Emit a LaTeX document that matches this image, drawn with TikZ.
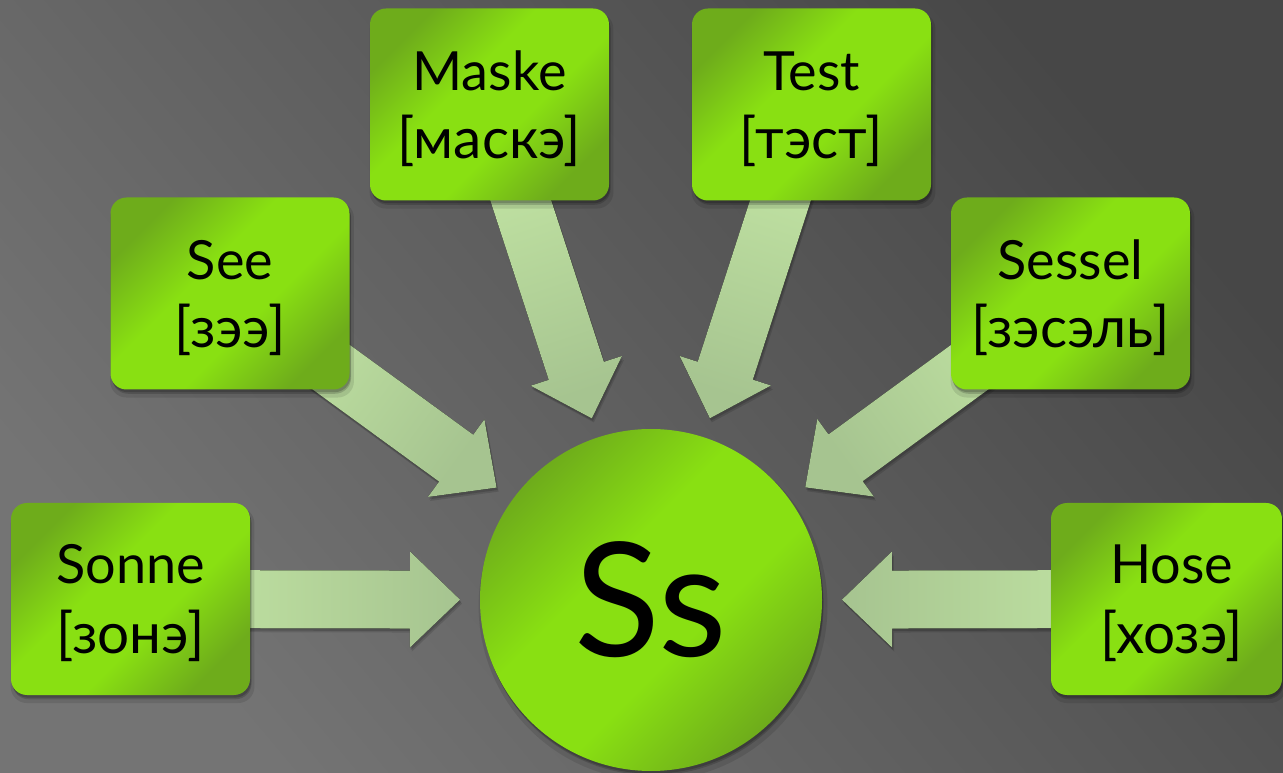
\documentclass[tikz,border=0pt]{standalone}
\usepackage{fontspec}
\setmainfont{Lato}
\usetikzlibrary{calc,shadows}
\pgfdeclarelayer{bg}
\pgfdeclarelayer{arr}
\pgfsetlayers{bg,arr,main}
\definecolor{bgdark}{HTML}{474747}
\definecolor{bglight}{HTML}{747474}
\definecolor{gdark}{HTML}{6EAC1B}
\definecolor{gbright}{HTML}{89E012}
\definecolor{alight}{HTML}{C6E9A6}
\definecolor{adark}{HTML}{A6C490}
\pgfdeclareverticalshading{greenbox}{100bp}{color(0bp)=(gdark); color(25bp)=(gdark);
  color(42bp)=(gbright); color(58bp)=(gbright); color(75bp)=(gdark); color(100bp)=(gdark)}
\tikzset{
  softshadow/.style={
    general shadow={fill=black, opacity=0.10, shadow xshift=1.5pt, shadow yshift=-4.5pt, shadow scale=1.02},
    general shadow={fill=black, opacity=0.16, shadow xshift=1.2pt, shadow yshift=-3.2pt},
    general shadow={fill=black, opacity=0.18, shadow xshift=0.8pt, shadow yshift=-2pt}},
  wordbox/.style={rounded corners=12pt, minimum width=179.25pt, minimum height=144pt,
    inner sep=0pt, softshadow, shading=greenbox, shading angle=45},
  hub/.style={circle, minimum size=256.5pt, inner sep=0pt, softshadow,
    shading=greenbox, shading angle=45},
  wordtext/.style={font=\fontsize{40.5}{46}\selectfont, anchor=base, inner sep=0pt, text=black},
  transtext/.style={font=\fontsize{42.5}{46}\selectfont, anchor=base, inner sep=0pt, text=black},
  hubtext/.style={font=\fontsize{119}{140}\selectfont, anchor=base, inner sep=0pt, text=black},
  arrowshadow/.style={
    general shadow={fill=black, opacity=0.12, shadow xshift=1.5pt, shadow yshift=-3pt},
    general shadow={fill=black, opacity=0.15, shadow xshift=0.8pt, shadow yshift=-1.8pt}},
}
\newcommand\blockarrow[1]{%
  \pgfmathanglebetweenpoints{\pgfpointanchor{c}{center}}{\pgfpointanchor{#1}{center}}%
  \pgfmathsetmacro\shang{\pgfmathresult-90}%
  \coordinate (#1-t) at ($(c)!143.25pt!(#1)$);
  \coordinate (#1-h) at ($(c)!180.75pt!(#1)$);
  \fill[arrowshadow, top color=alight, bottom color=adark, shading angle=\shang]
    ($(#1)!21.75pt!90:(#1-t)$) -- ($(#1-h)!21.75pt!90:(#1-t)$) -- ($(#1-h)!36pt!90:(#1-t)$)
    -- (#1-t) -- ($(#1-h)!36pt!-90:(#1-t)$) -- ($(#1-h)!21.75pt!-90:(#1-t)$)
    -- ($(#1)!21.75pt!-90:(#1-t)$) -- cycle;
}
\begin{document}
\begin{tikzpicture}[x=0.75pt, y=-0.75pt]
\useasboundingbox (0,0) rectangle (1283,773);
\begin{pgfonlayer}{bg}
  \shade[top color=bgdark, bottom color=bglight, shading angle=-50] (0,0) rectangle (1283,773);
\end{pgfonlayer}

\node[hub] (c) at (651,600) {};
\node[hubtext] (ss) at (651,657) {Ss};

\node[wordbox] (Sonne) at (130.5,599) {};
\node[wordbox] (See) at (230,293.5) {};
\node[wordbox] (Maske) at (489.5,104.5) {};
\node[wordbox] (Test) at (811.5,104.5) {};
\node[wordbox] (Sessel) at (1070.5,293.5) {};
\node[wordbox, minimum width=173.25pt] (Hose) at (1166.5,599) {};

\node[wordtext] (Sonne-a) at ($(Sonne)+(0,-15)$) {Sonne};
\node[transtext] (Sonne-b) at ($(Sonne)+(0,54)$) {[зонэ]};
\node[wordtext] (See-a) at ($(See)+(0,-14)$) {See};
\node[transtext] (See-b) at ($(See)+(0,54)$) {[зээ]};
\node[wordtext] (Maske-a) at ($(Maske)+(0,-14)$) {Maske};
\node[transtext] (Maske-b) at ($(Maske)+(0,54)$) {[маскэ]};
\node[wordtext] (Test-a) at ($(Test)+(0,-14)$) {Test};
\node[transtext] (Test-b) at ($(Test)+(0,54)$) {[тэст]};
\node[wordtext] (Sessel-a) at ($(Sessel)+(0,-14)$) {Sessel};
\node[transtext] (Sessel-b) at ($(Sessel)+(0,54)$) {[зэсэль]};
\node[wordtext] (Hose-a) at ($(Hose)+(5,-15)$) {Hose};
\node[transtext] (Hose-b) at ($(Hose)+(5,54)$) {[хозэ]};

\begin{pgfonlayer}{arr}
  \blockarrow{Sonne}
  \blockarrow{See}
  \blockarrow{Maske}
  \blockarrow{Test}
  \blockarrow{Sessel}
  \blockarrow{Hose}
\end{pgfonlayer}
\end{tikzpicture}
\end{document}
